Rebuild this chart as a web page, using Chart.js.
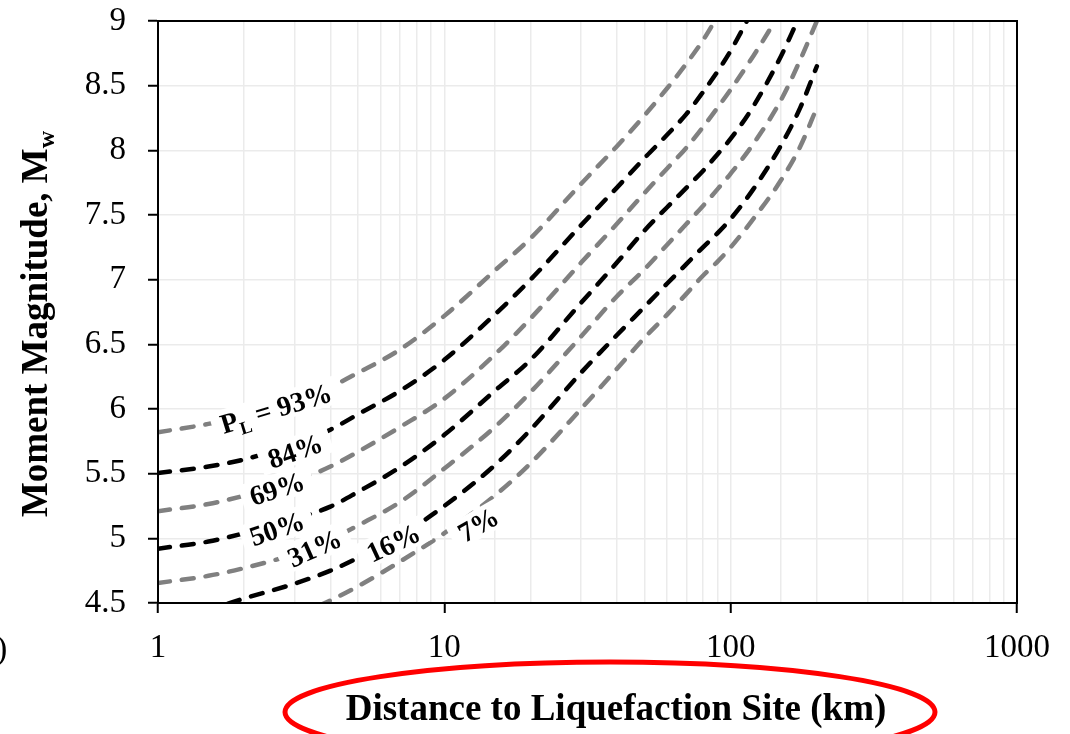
<!DOCTYPE html>
<html>
<head>
<meta charset="utf-8">
<script src="https://cdn.jsdelivr.net/npm/chart.js@4.4.1/dist/chart.umd.min.js"></script>
<style>
  html, body { margin: 0; padding: 0; background: #ffffff; }
  #wrap { width: 1070px; height: 734px; position: relative; overflow: hidden; }
  canvas { display: block; }
</style>
</head>
<body>
<div id="wrap"><canvas id="c" width="1070" height="734"></canvas></div>
<script>
// ---------------- data ----------------
const xTickLabels = ['1', '10', '100', '1000'];
const yTickValues = [4.5, 5, 5.5, 6, 6.5, 7, 7.5, 8, 8.5, 9];

const curveNames = ['93%', '84%', '69%', '50%', '31%', '16%', '7%'];

// distance (km) / moment magnitude pairs for each probability curve
const pl93Dist = [1, 1.5, 2, 3, 4, 5, 7, 10, 15, 20, 30, 40, 50, 60, 70, 80, 88];
const pl93Mag  = [5.82, 5.885, 5.95, 6.06, 6.17, 6.28, 6.46, 6.72, 7.07, 7.32, 7.74, 8.03, 8.27, 8.48, 8.67, 8.85, 9.0];

const pl84Dist = [1, 1.5, 2, 3, 4, 5, 7, 10, 15, 20, 30, 40, 50, 60, 70, 80, 90, 100, 114];
const pl84Mag  = [5.505, 5.555, 5.61, 5.73, 5.84, 5.96, 6.14, 6.38, 6.73, 7.00, 7.42, 7.71, 7.94, 8.12, 8.28, 8.45, 8.61, 8.77, 9.0];

const pl69Dist = [1, 1.5, 2, 3, 4, 5, 7, 10, 15, 20, 30, 40, 50, 60, 70, 80, 90, 100, 120, 143];
const pl69Mag  = [5.21, 5.265, 5.33, 5.44, 5.555, 5.67, 5.86, 6.08, 6.42, 6.70, 7.13, 7.43, 7.67, 7.86, 8.02, 8.18, 8.33, 8.47, 8.73, 9.0];

const pl50Dist = [1, 1.5, 2, 3, 4, 5, 7, 10, 15, 20, 30, 40, 50, 60, 70, 80, 90, 100, 120, 150, 171];
const pl50Mag  = [4.92, 4.975, 5.04, 5.15, 5.245, 5.36, 5.55, 5.80, 6.14, 6.38, 6.82, 7.13, 7.38, 7.56, 7.71, 7.84, 7.97, 8.09, 8.34, 8.73, 9.0];

const pl31Dist = [1, 1.5, 2, 3, 4, 5, 7, 10, 15, 20, 30, 40, 50, 60, 70, 80, 90, 100, 120, 150, 175, 200];
const pl31Mag  = [4.655, 4.71, 4.77, 4.88, 4.99, 5.10, 5.28, 5.54, 5.86, 6.13, 6.56, 6.87, 7.08, 7.27, 7.43, 7.57, 7.70, 7.82, 8.05, 8.39, 8.70, 9.0];

const pl16Dist = [1, 1.5, 2, 3, 4, 5, 7, 10, 15, 20, 30, 40, 50, 60, 70, 80, 90, 100, 120, 150, 175, 200];
const pl16Mag  = [4.37, 4.45, 4.535, 4.65, 4.75, 4.85, 5.02, 5.25, 5.565, 5.84, 6.28, 6.57, 6.79, 6.97, 7.12, 7.25, 7.36, 7.47, 7.70, 8.04, 8.33, 8.65];

const pl7Dist  = [1, 1.5, 2, 3, 4, 5, 7, 10, 15, 20, 30, 40, 50, 60, 70, 80, 90, 100, 120, 150, 175, 200];
const pl7Mag   = [4.12, 4.19, 4.26, 4.40, 4.52, 4.63, 4.82, 5.04, 5.33, 5.58, 6.00, 6.31, 6.55, 6.73, 6.89, 7.03, 7.14, 7.25, 7.47, 7.77, 8.03, 8.33];

// ---------------- styling / helpers ----------------
const GRAY = '#808080';
const BLACK = '#000000';
const SERIF = "'Liberation Serif', 'Times New Roman', Times, serif";

function pairs(dist, mag) { return dist.map((d, i) => ({ x: d, y: mag[i] })); }

const curveData = [
  pairs(pl93Dist, pl93Mag), pairs(pl84Dist, pl84Mag), pairs(pl69Dist, pl69Mag),
  pairs(pl50Dist, pl50Mag), pairs(pl31Dist, pl31Mag), pairs(pl16Dist, pl16Mag),
  pairs(pl7Dist, pl7Mag)
];

const datasets = curveData.map((data, i) => ({
  label: 'PL = ' + curveNames[i],
  data: data,
  borderColor: i % 2 === 0 ? GRAY : BLACK,
  borderWidth: 4.5,
  borderDash: [12, 12],
  borderCapStyle: 'round',
  pointRadius: 0,
  cubicInterpolationMode: 'monotone',
  fill: false,
  clip: 0
}));

function isPow10(v) { const l = Math.log10(v); return Math.abs(l - Math.round(l)) < 1e-9; }

// label anchors in data space (distance, magnitude) and rotation
const labelSpecs = [
  { d: 2.58, m: 6.01, ang: -17, parts: [['P', 28, 0], ['L', 18, 6], [' = 93%', 28, 0]] },
  { d: 3.01, m: 5.68, ang: -19, parts: [['84%', 28, 0]] },
  { d: 2.60, m: 5.39, ang: -18, parts: [['69%', 28, 0]] },
  { d: 2.60, m: 5.08, ang: -19, parts: [['50%', 28, 0]] },
  { d: 3.51, m: 4.93, ang: -24, parts: [['31%', 28, 0]] },
  { d: 6.62, m: 4.97, ang: -25, parts: [['16%', 28, 0]] },
  { d: 13.1, m: 5.11, ang: -30, parts: [['7%', 28, 0]] }
];

const overlay = {
  id: 'overlay',
  afterDraw(chart) {
    const { ctx, chartArea: a, scales } = chart;
    const xs = scales.x, ys = scales.y;
    ctx.save();
    // frame
    ctx.strokeStyle = '#000';
    ctx.lineWidth = 2;
    ctx.strokeRect(a.left, a.top, a.right - a.left, a.bottom - a.top);

    // curve labels
    labelSpecs.forEach(s => {
      const px = xs.getPixelForValue(s.d);
      const py = ys.getPixelForValue(s.m);
      let total = 0;
      const widths = s.parts.map(p => {
        ctx.font = 'bold ' + p[1] + 'px ' + SERIF;
        const w = ctx.measureText(p[0]).width;
        total += w;
        return w;
      });
      ctx.save();
      ctx.translate(px, py);
      ctx.rotate(s.ang * Math.PI / 180);
      ctx.fillStyle = '#ffffff';
      ctx.fillRect(-total / 2 - 9, -14, total + 18, 28);
      ctx.fillStyle = '#000';
      ctx.textBaseline = 'alphabetic';
      ctx.textAlign = 'left';
      let cx = -total / 2;
      s.parts.forEach((p, i) => {
        ctx.font = 'bold ' + p[1] + 'px ' + SERIF;
        ctx.fillText(p[0], cx, 10 + p[2]);
        cx += widths[i];
      });
      ctx.restore();
    });

    // y-axis title with subscript
    ctx.save();
    ctx.translate(46.5, 324);
    ctx.rotate(-Math.PI / 2);
    ctx.fillStyle = '#000';
    ctx.textBaseline = 'alphabetic';
    ctx.textAlign = 'left';
    ctx.font = 'bold 37px ' + SERIF;
    const main = 'Moment Magnitude, M';
    const wMain = ctx.measureText(main).width;
    ctx.font = 'bold 24px ' + SERIF;
    const wSub = ctx.measureText('w').width;
    const tot = wMain + wSub;
    ctx.font = 'bold 37px ' + SERIF;
    ctx.fillText(main, -tot / 2, 0);
    ctx.font = 'bold 24px ' + SERIF;
    ctx.fillText('w', -tot / 2 + wMain, 7);
    ctx.restore();

    // x-axis title
    ctx.fillStyle = '#000';
    ctx.font = 'bold 37px ' + SERIF;
    ctx.textAlign = 'center';
    ctx.textBaseline = 'alphabetic';
    ctx.fillText('Distance to Liquefaction Site (km)', 616, 720);

    // red ellipse around the x-axis title
    ctx.beginPath();
    ctx.ellipse(610, 712, 325, 50, 0, 0, Math.PI * 2);
    ctx.strokeStyle = '#ff0000';
    ctx.lineWidth = 5;
    ctx.stroke();

    // cut-off character at the left edge
    ctx.font = '34px ' + SERIF;
    ctx.textAlign = 'left';
    ctx.textBaseline = 'middle';
    ctx.fillText(')', -4, 650);
    ctx.restore();
  }
};

new Chart(document.getElementById('c'), {
  type: 'line',
  data: { datasets: datasets },
  options: {
    responsive: false,
    devicePixelRatio: 1,
    animation: false,
    layout: { padding: { top: 21, right: 53, left: 0, bottom: 0 } },
    plugins: { legend: { display: false }, tooltip: { enabled: false } },
    scales: {
      x: {
        type: 'logarithmic',
        min: 1,
        max: 1000,
        afterFit(scale) { scale.height = 131; scale.paddingLeft = 0; scale.paddingRight = 0; },
        border: { display: true, color: '#000', width: 2 },
        grid: {
          color: '#ebebeb',
          lineWidth: 1.5,
          drawTicks: true,
          tickLength: 10,
          tickWidth: 2,
          tickColor: ctx => (ctx.tick && isPow10(ctx.tick.value)) ? '#000' : 'rgba(0,0,0,0)'
        },
        ticks: {
          autoSkip: false,
          maxRotation: 0,
          minRotation: 0,
          padding: 16,
          color: '#000',
          font: { family: SERIF, size: 33 },
          callback: v => {
            if (!isPow10(v)) return '';
            const idx = Math.round(Math.log10(v));
            return xTickLabels[idx] !== undefined ? xTickLabels[idx] : '';
          }
        }
      },
      y: {
        type: 'linear',
        min: yTickValues[0],
        max: yTickValues[yTickValues.length - 1],
        afterFit(scale) { scale.width = 158; scale.paddingTop = 0; scale.paddingBottom = 0; },
        border: { display: true, color: '#000', width: 2 },
        grid: {
          color: '#ebebeb',
          lineWidth: 1.5,
          tickLength: 10,
          tickWidth: 2,
          tickColor: '#000'
        },
        ticks: {
          stepSize: 0.5,
          padding: 22,
          color: '#000',
          font: { family: SERIF, size: 33 },
          callback: v => String(Math.round(v * 10) / 10)
        }
      }
    }
  },
  plugins: [overlay]
});
</script>
</body>
</html>
